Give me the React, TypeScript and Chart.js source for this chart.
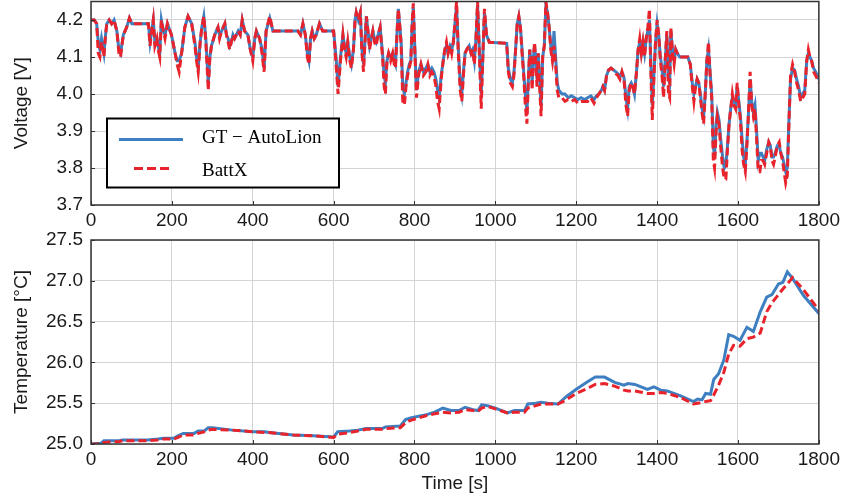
import React, { useEffect, useRef } from 'react';
import { Chart, registerables } from 'chart.js';

Chart.register(...registerables);

// ---------------- data ----------------
const seriesNames = ['GT \u2212 AutoLion', 'BattX'];

const timeV = [
  0, 8, 14, 18, 22, 26, 29, 32, 36, 39, 45, 51, 57, 64, 69, 73, 80, 88, 95, 101,
  142, 146, 150, 154, 158, 163, 166, 170, 174, 179, 183, 189, 199, 208, 213, 218, 224, 232, 240, 249,
  257, 261, 265, 270, 274, 279, 284, 290, 294, 298, 306, 314, 318, 323, 331, 335, 339, 343, 347, 351,
  355, 364, 369, 374, 380, 388, 394, 400, 405, 409, 417, 423, 428, 433, 442, 450, 512, 518, 524, 530,
  535, 539, 543, 547, 552, 557, 565, 573, 600, 606, 611, 617, 623, 627, 631, 635, 640, 644, 649, 653,
  656, 661, 666, 670, 674, 678, 681, 685, 689, 693, 697, 701, 705, 710, 715, 721, 725, 728, 732, 736,
  741, 746, 750, 753, 757, 760, 764, 767, 771, 775, 779, 783, 787, 791, 794, 797, 801, 805, 810, 816,
  822, 828, 833, 838, 843, 848, 853, 857, 861, 866, 871, 875, 879, 883, 888, 892, 896, 900, 904, 908,
  913, 917, 921, 925, 929, 935, 940, 944, 948, 952, 956, 960, 965, 969, 973, 978, 985, 1028, 1032, 1037,
  1042, 1046, 1050, 1054, 1058, 1062, 1066, 1070, 1074, 1078, 1082, 1085, 1088, 1091, 1094, 1097, 1100, 1103, 1106, 1109,
  1113, 1117, 1121, 1125, 1129, 1133, 1137, 1141, 1145, 1149, 1153, 1157, 1165, 1172, 1180, 1188, 1196, 1204, 1212, 1220,
  1228, 1236, 1244, 1250, 1256, 1262, 1266, 1270, 1275, 1280, 1286, 1292, 1298, 1303, 1308, 1313, 1318, 1323, 1327, 1331,
  1336, 1340, 1344, 1349, 1353, 1357, 1361, 1365, 1369, 1373, 1377, 1381, 1384, 1388, 1392, 1396, 1400, 1404, 1408, 1412,
  1416, 1420, 1424, 1428, 1431, 1434, 1438, 1442, 1446, 1450, 1456, 1476, 1482, 1487, 1491, 1495, 1499, 1503, 1507, 1511,
  1515, 1519, 1523, 1527, 1531, 1535, 1539, 1542, 1546, 1549, 1553, 1557, 1562, 1566, 1570, 1574, 1578, 1582, 1586, 1590,
  1594, 1598, 1602, 1606, 1610, 1614, 1618, 1622, 1626, 1630, 1634, 1638, 1642, 1646, 1650, 1654, 1658, 1662, 1666, 1671,
  1676, 1680, 1684, 1688, 1692, 1697, 1702, 1706, 1710, 1714, 1718, 1722, 1726, 1730, 1735, 1740, 1745, 1750, 1755, 1760,
  1765, 1770, 1774, 1778, 1782, 1787, 1792, 1796, 1800,
];

const gtVoltage = [
  4.20, 4.20, 4.19, 4.14, 4.12, 4.15, 4.13, 4.11, 4.16, 4.19, 4.20, 4.19, 4.20, 4.17, 4.12, 4.11, 4.16, 4.18, 4.205, 4.19,
  4.19, 4.14, 4.17, 4.20, 4.14, 4.15, 4.13, 4.11, 4.20, 4.17, 4.16, 4.19, 4.16, 4.11, 4.09, 4.09, 4.11, 4.18, 4.21, 4.19,
  4.14, 4.10, 4.07, 4.14, 4.18, 4.21, 4.15, 4.03, 4.10, 4.13, 4.16, 4.18, 4.16, 4.17, 4.19, 4.16, 4.15, 4.13, 4.14, 4.16,
  4.15, 4.17, 4.16, 4.20, 4.17, 4.16, 4.12, 4.10, 4.15, 4.17, 4.15, 4.12, 4.07, 4.17, 4.205, 4.17, 4.17, 4.16, 4.19, 4.16,
  4.11, 4.09, 4.15, 4.17, 4.15, 4.16, 4.19, 4.17, 4.17, 4.10, 4.02, 4.10, 4.16, 4.13, 4.11, 4.14, 4.10, 4.08, 4.12, 4.20,
  4.22, 4.20, 4.22, 4.12, 4.08, 4.15, 4.21, 4.17, 4.13, 4.15, 4.17, 4.15, 4.14, 4.16, 4.18, 4.11, 4.05, 4.03, 4.09, 4.11,
  4.10, 4.11, 4.09, 4.08, 4.17, 4.23, 4.18, 4.14, 4.02, 4.00, 4.03, 4.06, 4.08, 4.09, 4.18, 4.235, 4.12, 4.01, 4.06, 4.08,
  4.06, 4.07, 4.08, 4.06, 4.07, 4.06, 4.04, 4.01, 3.99, 4.05, 4.09, 4.12, 4.13, 4.11, 4.13, 4.12, 4.14, 4.19, 4.24, 4.13,
  4.03, 4.00, 4.06, 4.11, 4.12, 4.13, 4.11, 4.12, 4.09, 4.15, 4.24, 4.13, 4.00, 4.10, 4.22, 4.16, 4.14, 4.137, 4.07, 4.04,
  4.03, 4.06, 4.12, 4.19, 4.21, 4.18, 4.12, 4.06, 4.00, 3.95, 4.05, 4.12, 4.09, 4.03, 4.10, 4.13, 4.09, 4.04, 4.11, 4.05,
  3.97, 4.10, 4.13, 4.24, 4.22, 4.18, 4.13, 4.10, 4.17, 4.10, 4.03, 4.01, 4.00, 4.00, 3.99, 3.995, 3.99, 3.985, 3.99, 3.985,
  3.99, 3.995, 3.985, 3.995, 4.00, 4.01, 4.02, 4.01, 4.05, 4.065, 4.07, 4.065, 4.06, 4.055, 4.045, 4.06, 4.045, 3.99, 3.96, 4.02,
  4.03, 4.02, 4.00, 4.06, 4.12, 4.14, 4.11, 4.14, 4.11, 4.15, 4.17, 4.20, 4.10, 3.97, 4.05, 4.14, 4.19, 4.16, 4.10, 4.07,
  4.02, 4.09, 4.16, 4.04, 4.03, 4.17, 4.12, 4.09, 4.12, 4.11, 4.10, 4.10, 4.08, 4.03, 4.00, 4.02, 4.04, 4.03, 4.00, 3.96,
  3.94, 4.00, 4.09, 4.12, 4.06, 4.00, 3.86, 3.83, 3.92, 3.95, 3.93, 3.88, 3.83, 3.80, 3.81, 3.86, 3.92, 3.96, 3.99, 3.98,
  3.97, 4.02, 3.98, 3.94, 3.88, 3.83, 3.81, 3.87, 3.95, 4.04, 3.98, 3.95, 3.97, 3.90, 3.82, 3.84, 3.84, 3.83, 3.82, 3.85,
  3.87, 3.86, 3.83, 3.83, 3.84, 3.86, 3.86, 3.84, 3.83, 3.81, 3.79, 3.80, 3.93, 4.04, 4.07, 4.065, 4.04, 4.02, 3.99, 4.00,
  4.01, 4.09, 4.11, 4.10, 4.09, 4.07, 4.06, 4.05, 4.04,
];

const battxVoltage = [
  4.20, 4.20, 4.19, 4.11, 4.10, 4.14, 4.12, 4.10, 4.16, 4.19, 4.20, 4.19, 4.20, 4.17, 4.11, 4.10, 4.16, 4.18, 4.205, 4.19,
  4.19, 4.13, 4.17, 4.20, 4.13, 4.15, 4.12, 4.10, 4.20, 4.17, 4.15, 4.19, 4.16, 4.11, 4.08, 4.06, 4.11, 4.18, 4.21, 4.19,
  4.13, 4.09, 4.06, 4.14, 4.18, 4.21, 4.14, 4.01, 4.10, 4.13, 4.16, 4.18, 4.15, 4.17, 4.19, 4.16, 4.14, 4.12, 4.14, 4.16,
  4.15, 4.17, 4.16, 4.20, 4.17, 4.16, 4.12, 4.09, 4.15, 4.17, 4.15, 4.11, 4.06, 4.17, 4.21, 4.17, 4.17, 4.16, 4.19, 4.16,
  4.10, 4.08, 4.15, 4.17, 4.15, 4.16, 4.19, 4.17, 4.17, 4.08, 4.00, 4.09, 4.16, 4.12, 4.10, 4.14, 4.09, 4.07, 4.12, 4.20,
  4.22, 4.20, 4.22, 4.11, 4.06, 4.15, 4.21, 4.17, 4.12, 4.15, 4.17, 4.14, 4.13, 4.16, 4.18, 4.10, 4.02, 4.00, 4.09, 4.11,
  4.09, 4.11, 4.08, 4.07, 4.17, 4.23, 4.18, 4.13, 3.98, 3.97, 4.02, 4.05, 4.07, 4.09, 4.19, 4.245, 4.11, 3.99, 4.05, 4.08,
  4.05, 4.06, 4.08, 4.05, 4.06, 4.05, 4.02, 3.98, 3.96, 4.04, 4.09, 4.12, 4.14, 4.11, 4.13, 4.11, 4.14, 4.19, 4.25, 4.12,
  4.01, 3.98, 4.05, 4.11, 4.12, 4.13, 4.11, 4.12, 4.08, 4.15, 4.25, 4.12, 3.96, 4.10, 4.23, 4.16, 4.14, 4.137, 4.06, 4.03,
  4.02, 4.05, 4.12, 4.19, 4.21, 4.18, 4.11, 4.05, 3.97, 3.92, 4.05, 4.12, 4.08, 4.01, 4.10, 4.14, 4.08, 4.02, 4.11, 4.03,
  3.94, 4.10, 4.13, 4.25, 4.22, 4.18, 4.12, 4.09, 4.13, 4.08, 4.01, 3.99, 3.99, 3.98, 3.985, 3.98, 3.985, 3.975, 3.98, 3.98,
  3.98, 3.99, 3.975, 3.99, 4.00, 4.01, 4.02, 4.01, 4.05, 4.065, 4.07, 4.065, 4.055, 4.05, 4.04, 4.06, 4.04, 3.97, 3.94, 4.01,
  4.03, 4.02, 4.00, 4.06, 4.12, 4.15, 4.11, 4.14, 4.10, 4.15, 4.18, 4.23, 4.08, 3.93, 4.04, 4.14, 4.20, 4.16, 4.09, 4.05,
  3.99, 4.09, 4.17, 4.00, 3.99, 4.18, 4.11, 4.08, 4.12, 4.11, 4.10, 4.10, 4.08, 4.02, 3.98, 4.02, 4.04, 4.03, 3.99, 3.95,
  3.92, 4.00, 4.09, 4.14, 4.05, 3.99, 3.82, 3.80, 3.90, 3.94, 3.92, 3.86, 3.80, 3.77, 3.77, 3.85, 3.92, 3.96, 4.00, 3.97,
  3.96, 4.03, 3.97, 3.93, 3.85, 3.81, 3.79, 3.86, 3.95, 4.06, 3.97, 3.94, 3.96, 3.88, 3.79, 3.79, 3.82, 3.82, 3.81, 3.84,
  3.87, 3.86, 3.82, 3.81, 3.83, 3.86, 3.87, 3.84, 3.82, 3.79, 3.76, 3.78, 3.92, 4.05, 4.08, 4.06, 4.03, 4.01, 3.98, 3.99,
  4.00, 4.09, 4.12, 4.10, 4.09, 4.06, 4.05, 4.04, 4.03,
];

const timeT = [
  0, 25, 32, 70, 78, 140, 165, 180, 205, 215, 228, 255, 265, 280, 290, 300, 350, 400, 430, 440,
  500, 550, 600, 610, 640, 660, 680, 720, 728, 765, 778, 790, 810, 830, 850, 870, 890, 910, 925, 945,
  957, 966, 980, 1000, 1030, 1047, 1072, 1080, 1100, 1113, 1130, 1155, 1175, 1200, 1227, 1247, 1270, 1295, 1318, 1328,
  1345, 1376, 1392, 1409, 1425, 1458, 1490, 1500, 1511, 1520, 1532, 1540, 1552, 1565, 1577, 1589, 1605, 1622, 1638, 1655,
  1671, 1684, 1700, 1711, 1722, 1735, 1762, 1800,
];

const gtTemp = [
  25.00, 25.01, 25.04, 25.04, 25.05, 25.05, 25.06, 25.07, 25.07, 25.10, 25.13, 25.13, 25.16, 25.16, 25.20, 25.20, 25.17, 25.15, 25.15, 25.14,
  25.11, 25.10, 25.085, 25.15, 25.16, 25.17, 25.19, 25.19, 25.21, 25.22, 25.30, 25.32, 25.34, 25.36, 25.39, 25.44, 25.41, 25.41, 25.45, 25.42,
  25.41, 25.48, 25.47, 25.44, 25.38, 25.41, 25.41, 25.49, 25.50, 25.51, 25.50, 25.49, 25.58, 25.67, 25.76, 25.82, 25.82, 25.755, 25.72, 25.74,
  25.73, 25.67, 25.70, 25.66, 25.65, 25.59, 25.52, 25.55, 25.54, 25.62, 25.61, 25.79, 25.86, 26.03, 26.34, 26.32, 26.27, 26.43, 26.38, 26.62,
  26.80, 26.83, 26.96, 26.98, 27.11, 27.03, 26.82, 26.60,
];

const battxTemp = [
  25.00, 25.00, 25.02, 25.03, 25.04, 25.04, 25.05, 25.06, 25.06, 25.08, 25.11, 25.11, 25.13, 25.15, 25.17, 25.18, 25.17, 25.15, 25.14, 25.14,
  25.11, 25.10, 25.08, 25.12, 25.14, 25.16, 25.18, 25.18, 25.19, 25.20, 25.26, 25.29, 25.32, 25.35, 25.37, 25.39, 25.38, 25.39, 25.42, 25.41,
  25.40, 25.44, 25.46, 25.43, 25.38, 25.39, 25.39, 25.44, 25.47, 25.49, 25.49, 25.49, 25.54, 25.62, 25.68, 25.73, 25.74, 25.71, 25.66, 25.65,
  25.65, 25.62, 25.62, 25.63, 25.62, 25.57, 25.49, 25.50, 25.51, 25.52, 25.53, 25.60, 25.72, 25.88, 26.10, 26.21, 26.20, 26.29, 26.31, 26.36,
  26.62, 26.73, 26.83, 26.90, 26.96, 27.04, 26.89, 26.64,
];

const timeTicks = [0, 200, 400, 600, 800, 1000, 1200, 1400, 1600, 1800];
const voltageTicks = [3.7, 3.8, 3.9, 4.0, 4.1, 4.2];
const temperatureTicks = [25.0, 25.5, 26.0, 26.5, 27.0, 27.5];

// ---------------- styling ----------------
const BLUE = '#3d7fc1';
const RED = '#e8232b';
const GRID = '#d4d4d4';
const AXIS = '#333333';
const SANS = "'Liberation Sans', Arial, sans-serif";
const SERIF = "'Liberation Serif', 'DejaVu Serif', serif";
const TEXT = '#1a1a1a';

const boxPlugin = {
  id: 'axisBox',
  afterDatasetsDraw(chart: any) {
    const { ctx, chartArea: a, scales } = chart;
    ctx.save();
    // inward tick marks on left and bottom axes
    ctx.strokeStyle = AXIS;
    ctx.lineWidth = 1;
    ctx.beginPath();
    for (const t of scales.x.ticks) {
      const px = Math.round(scales.x.getPixelForValue(t.value)) + 0.5;
      ctx.moveTo(px, a.bottom);
      ctx.lineTo(px, a.bottom - 4);
    }
    for (const t of scales.y.ticks) {
      const py = Math.round(scales.y.getPixelForValue(t.value)) + 0.5;
      ctx.moveTo(a.left, py);
      ctx.lineTo(a.left + 4, py);
    }
    ctx.stroke();
    ctx.lineWidth = 1.5;
    ctx.strokeRect(a.left, a.top, a.right - a.left, a.bottom - a.top);
    ctx.restore();
  },
};

const legendPlugin = {
  id: 'boxedLegend',
  afterDraw(chart: any) {
    const { ctx, chartArea: a } = chart;
    const x0 = a.left + 16;
    const y0 = a.top + 117;
    const w = 232;
    const h = 69;
    ctx.save();
    ctx.fillStyle = '#ffffff';
    ctx.fillRect(x0, y0, w, h);
    ctx.strokeStyle = '#000000';
    ctx.lineWidth = 2;
    ctx.strokeRect(x0, y0, w, h);
    const ds = chart.data.datasets;
    const gt = ds.find((d: any) => d.label === seriesNames[0]);
    const bx = ds.find((d: any) => d.label === seriesNames[1]);
    ctx.lineCap = 'butt';
    ctx.lineWidth = 3;
    ctx.strokeStyle = gt.borderColor;
    ctx.setLineDash([]);
    ctx.beginPath();
    ctx.moveTo(x0 + 12, y0 + 21);
    ctx.lineTo(x0 + 76, y0 + 21);
    ctx.stroke();
    ctx.strokeStyle = bx.borderColor;
    ctx.setLineDash([9, 4]);
    ctx.beginPath();
    ctx.moveTo(x0 + 27, y0 + 50);
    ctx.lineTo(x0 + 62, y0 + 50);
    ctx.stroke();
    ctx.setLineDash([]);
    ctx.fillStyle = '#000000';
    ctx.font = `19px ${SERIF}`;
    ctx.textBaseline = 'middle';
    ctx.textAlign = 'left';
    ctx.fillText(gt.label, x0 + 95, y0 + 20);
    ctx.fillText(bx.label, x0 + 95, y0 + 53);
    ctx.restore();
  },
};

function makeConfig(opts: {
  t1: number[]; y1: number[]; t2: number[]; y2: number[];
  yMin: number; yMax: number; yTicks: number[]; yTitle: string;
  xTitle: string | null; xHeight: number; padTop: number; legend: boolean;
}) {
  const pts = (t: number[], v: number[]) => t.map((x, i) => ({ x, y: v[i] }));
  const plugins: any[] = [boxPlugin];
  if (opts.legend) plugins.push(legendPlugin);
  return {
    type: 'line' as const,
    data: {
      datasets: [
        {
          label: seriesNames[0],
          data: pts(opts.t1, opts.y1),
          borderColor: BLUE,
          borderWidth: 3,
          pointRadius: 0,
          tension: 0,
          fill: false,
          order: 1,
        },
        {
          label: seriesNames[1],
          data: pts(opts.t2, opts.y2),
          borderColor: RED,
          borderWidth: 3,
          borderDash: [8, 4],
          pointRadius: 0,
          tension: 0,
          fill: false,
          order: 0,
        },
      ],
    },
    options: {
      animation: false,
      responsive: false,
      devicePixelRatio: 1,
      layout: { padding: { top: opts.padTop, right: 24, left: 0, bottom: 0 } },
      plugins: { legend: { display: false }, tooltip: { enabled: false } },
      scales: {
        x: {
          type: 'linear',
          min: 0,
          max: 1800,
          afterBuildTicks: (s: any) => { s.ticks = timeTicks.map((v) => ({ value: v })); },
          afterFit: (s: any) => { s.height = opts.xHeight; },
          ticks: {
            autoSkip: false,
            maxRotation: 0,
            padding: 4,
            color: TEXT,
            font: { family: SANS, size: 19 },
            callback: (v: any) => String(v),
          },
          grid: { color: GRID, lineWidth: 1, drawTicks: false },
          border: { display: false },
          title: opts.xTitle
            ? { display: true, text: opts.xTitle, color: TEXT, font: { family: SANS, size: 19 }, padding: { top: 0, bottom: 1 } }
            : { display: false },
        },
        y: {
          type: 'linear',
          min: opts.yMin,
          max: opts.yMax,
          afterBuildTicks: (s: any) => { s.ticks = opts.yTicks.map((v) => ({ value: v })); },
          afterFit: (s: any) => { s.width = 91; s.paddingTop = 0; s.paddingBottom = 0; },
          ticks: {
            autoSkip: false,
            padding: 8,
            color: TEXT,
            font: { family: SANS, size: 19 },
            callback: (v: any) => Number(v).toFixed(1),
          },
          grid: { color: GRID, lineWidth: 1, drawTicks: false },
          border: { display: false },
          title: { display: true, text: opts.yTitle, color: TEXT, font: { family: SANS, size: 19 }, padding: { top: 10, bottom: 0 } },
        },
      },
    },
    plugins,
  };
}

function ChartCanvas({ config, width, height }: { config: any; width: number; height: number }) {
  const ref = useRef<HTMLCanvasElement | null>(null);
  useEffect(() => {
    if (!ref.current) return;
    const chart = new Chart(ref.current, config);
    return () => chart.destroy();
  }, [config]);
  return <canvas ref={ref} width={width} height={height} style={{ display: 'block', width, height }} />;
}

const topConfig = makeConfig({
  t1: timeV, y1: gtVoltage, t2: timeV, y2: battxVoltage,
  yMin: 3.7, yMax: 4.25, yTicks: voltageTicks, yTitle: 'Voltage [V]',
  xTitle: null, xHeight: 25, padTop: 1.5, legend: true,
});

const bottomConfig = makeConfig({
  t1: timeT, y1: gtTemp, t2: timeT, y2: battxTemp,
  yMin: 25.0, yMax: 27.5, yTicks: temperatureTicks, yTitle: 'Temperature [\u00B0C]',
  xTitle: 'Time [s]', xHeight: 52, padTop: 10, legend: false,
});

export default function App() {
  return (
    <div style={{ position: 'fixed', left: 0, top: 0, width: 844, height: 496, background: '#ffffff' }}>
      <div style={{ position: 'absolute', left: 0, top: 0 }}>
        <ChartCanvas config={topConfig} width={844} height={230} />
      </div>
      <div style={{ position: 'absolute', left: 0, top: 230 }}>
        <ChartCanvas config={bottomConfig} width={844} height={266} />
      </div>
    </div>
  );
}
